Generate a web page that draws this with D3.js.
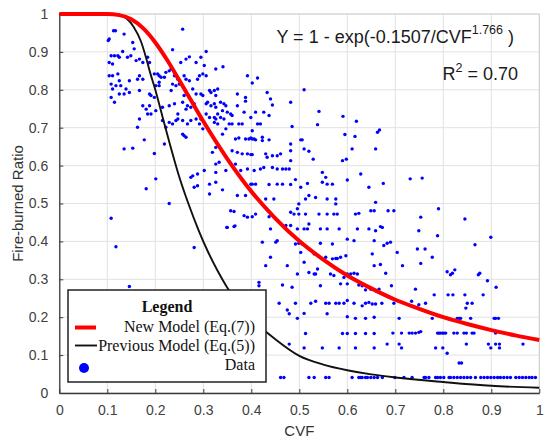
<!DOCTYPE html>
<html>
<head>
<meta charset="utf-8">
<script src="https://cdnjs.cloudflare.com/ajax/libs/d3/7.8.5/d3.min.js"></script>
<style>
  body { margin: 0; background: #fff; }
  svg { display: block; }
</style>
</head>
<body>
<div class="chart"></div>
<script>
// Tick values for both axes (0 .. 1 by 0.1)
var xTicks = [0, 0.1, 0.2, 0.3, 0.4, 0.5, 0.6, 0.7, 0.8, 0.9, 1];
var yTicks = [0, 0.1, 0.2, 0.3, 0.4, 0.5, 0.6, 0.7, 0.8, 0.9, 1];
var xTickLabels = ['0', '0.1', '0.2', '0.3', '0.4', '0.5', '0.6', '0.7', '0.8', '0.9', '1'];
var yTickLabels = ['0', '0.1', '0.2', '0.3', '0.4', '0.5', '0.6', '0.7', '0.8', '0.9', '1'];

// New model (Eq.(7))
var newModelCvf = [0, 0.05, 0.1, 0.125, 0.15, 0.175, 0.2, 0.225, 0.25, 0.275, 0.3, 0.35, 0.4, 0.45,
  0.5, 0.55, 0.6, 0.65, 0.7, 0.75, 0.8, 0.85, 0.9, 0.95, 1];
var newModelRatio = [1, 1, 1, 0.997, 0.986, 0.962, 0.925, 0.878, 0.825, 0.771, 0.717, 0.618, 0.532, 0.461,
  0.401, 0.352, 0.31, 0.276, 0.246, 0.222, 0.2, 0.182, 0.166, 0.152, 0.14];

// Previous model (Eq.(5))
var prevModelCvf = [0, 0.05, 0.1, 0.125, 0.14, 0.155, 0.17, 0.18, 0.19, 0.2, 0.21, 0.22, 0.23, 0.24, 0.25,
  0.27, 0.29, 0.31, 0.33, 0.35, 0.4, 0.45, 0.5, 0.55, 0.6, 0.65, 0.7, 0.8, 0.9, 1];
var prevModelRatio = [1, 1, 1, 0.998, 0.988, 0.966, 0.928, 0.888, 0.842, 0.8, 0.753, 0.705, 0.658, 0.613, 0.57,
  0.496, 0.43, 0.372, 0.322, 0.278, 0.197, 0.142, 0.098, 0.075, 0.06, 0.049, 0.041, 0.029, 0.019, 0.014];

// Measured data [CVF, fire-burned ratio]
var dataPoints = [
  [.113,.956],[.117,.956],[.104,.934],[.102,.930],[.135,.947],[.257,.960],[.153,.925],[.156,.908],
  [.132,.901],[.108,.890],[.115,.890],[.104,.872],[.111,.868],[.122,.890],[.125,.886],[.142,.886],
  [.149,.890],[.160,.877],[.167,.881],[.174,.872],[.184,.886],[.188,.872],[.236,.906],[.271,.887],
  [.264,.881],[.253,.872],[.285,.872],[.295,.886],[.302,.864],[.306,.901],[.326,.855],[.104,.837],
  [.111,.837],[.122,.842],[.125,.824],[.108,.815],[.118,.811],[.128,.811],[.139,.802],[.111,.802],
  [.108,.780],[.115,.767],[.125,.789],[.135,.789],[.146,.793],[.146,.824],[.163,.828],[.174,.828],
  [.167,.837],[.167,.798],[.198,.842],[.205,.842],[.208,.837],[.212,.833],[.208,.820],[.219,.833],
  [.222,.846],[.229,.850],[.233,.855],[.240,.837],[.247,.828],[.236,.815],[.243,.811],[.250,.815],
  [.233,.798],[.188,.789],[.191,.785],[.198,.780],[.201,.811],[.208,.811],[.260,.837],[.264,.828],
  [.271,.824],[.278,.802],[.285,.789],[.288,.828],[.292,.837],[.299,.842],[.306,.837],[.313,.798],
  [.316,.793],[.323,.798],[.326,.785],[.330,.802],[.260,.785],[.257,.767],[.267,.758],[.264,.749],
  [.274,.754],[.281,.763],[.295,.789],[.299,.785],[.306,.763],[.309,.767],[.316,.758],[.323,.763],
  [.326,.754],[.330,.736],[.188,.758],[.184,.736],[.191,.736],[.201,.745],[.215,.754],[.229,.758],
  [.240,.763],[.247,.736],[.243,.719],[.257,.719],[.267,.710],[.274,.719],[.285,.723],[.295,.723],
  [.306,.736],[.313,.727],[.323,.727],[.167,.723],[.163,.701],[.181,.749],[.174,.758],[.215,.719],
  [.222,.701],[.229,.714],[.236,.710],[.247,.723],[.257,.683],[.260,.679],[.264,.675],[.292,.710],
  [.299,.697],[.326,.723],[.323,.714],[.330,.710],[.177,.668],[.135,.644],[.153,.646],[.198,.632],
  [.219,.657],[.319,.635],[.326,.648],[.201,.565],[.181,.539],[.278,.573],[.274,.569],[.288,.578],
  [.302,.587],[.281,.543],[.288,.547],[.313,.551],[.326,.556],[.326,.604],[.326,.582],[.229,.500],
  [.313,.525],[.108,.461],[.118,.386],[.146,.281],[.281,.384],[.349,.437],[.366,.441],
  [.341,.861],[.392,.837],[.413,.831],[.402,.818],[.510,.800],[.371,.789],[.388,.780],[.388,.770],
  [.433,.793],[.440,.776],[.444,.760],[.482,.767],[.336,.767],[.343,.763],[.347,.758],[.340,.745],
  [.350,.741],[.357,.736],[.336,.727],[.343,.723],[.360,.732],[.354,.710],[.360,.710],[.347,.697],
  [.340,.683],[.371,.758],[.385,.741],[.399,.727],[.409,.741],[.426,.741],[.419,.710],[.413,.710],
  [.437,.732],[.374,.710],[.381,.710],[.541,.743],[.538,.708],[.591,.730],[.619,.717],[.595,.682],
  [.616,.677],[.663,.688],[.367,.670],[.374,.673],[.388,.670],[.395,.670],[.399,.673],[.402,.670],
  [.406,.670],[.409,.668],[.423,.675],[.423,.666],[.437,.668],[.402,.692],[.485,.703],[.503,.668],
  [.506,.668],[.360,.639],[.371,.635],[.381,.631],[.392,.631],[.399,.629],[.402,.629],[.430,.631],
  [.433,.622],[.444,.626],[.454,.626],[.461,.631],[.482,.639],[.482,.657],[.510,.644],[.520,.638],
  [.529,.617],[.590,.613],[.598,.617],[.610,.644],[.659,.644],[.333,.609],[.347,.587],[.367,.604],
  [.378,.587],[.392,.591],[.406,.587],[.419,.591],[.426,.595],[.444,.595],[.454,.591],[.465,.591],
  [.472,.591],[.479,.591],[.482,.613],[.437,.550],[.454,.551],[.465,.551],[.482,.550],[.492,.563],
  [.503,.543],[.517,.553],[.548,.582],[.555,.569],[.548,.556],[.558,.551],[.569,.551],[.600,.562],
  [.628,.578],[.645,.543],[.340,.536],[.371,.521],[.388,.521],[.430,.512],[.447,.512],[.499,.499],
  [.513,.512],[.520,.521],[.534,.516],[.558,.512],[.576,.512],[.659,.503],[.399,.551],[.402,.551],
  [.409,.551],[.667,.694],[.675,.553],[.731,.565],[.756,.567],
  [.357,.481],[.364,.479],[.385,.468],[.392,.464],[.402,.465],[.409,.472],[.437,.465],[.482,.477],
  [.489,.472],[.499,.472],[.496,.486],[.513,.472],[.541,.472],[.558,.472],[.572,.472],[.579,.472],
  [.576,.499],[.617,.472],[.624,.474],[.649,.481],[.656,.481],[.350,.437],[.364,.439],[.440,.433],
  [.472,.442],[.482,.442],[.496,.433],[.510,.433],[.517,.433],[.520,.446],[.544,.433],[.558,.433],
  [.583,.433],[.621,.433],[.645,.433],[.659,.428],[.423,.398],[.451,.398],[.454,.402],[.492,.393],
  [.499,.395],[.506,.393],[.544,.395],[.569,.393],[.600,.406],[.614,.402],[.656,.402],[.430,.336],
  [.440,.358],[.475,.336],[.503,.371],[.510,.345],[.531,.367],[.555,.358],[.569,.354],[.576,.355],
  [.579,.355],[.586,.358],[.597,.362],[.652,.367],[.656,.336],[.496,.314],[.520,.318],[.531,.314],
  [.534,.314],[.538,.327],[.565,.314],[.572,.310],[.593,.305],[.600,.314],[.607,.314],[.614,.316],
  [.621,.314],[.416,.292],[.416,.283],[.465,.285],[.485,.279],[.544,.283],[.586,.288],[.600,.288],
  [.624,.285],[.631,.283],[.638,.272],[.649,.274],[.659,.270],[.458,.237],[.475,.219],[.479,.209],
  [.492,.237],[.496,.197],[.510,.210],[.524,.237],[.534,.242],[.555,.237],[.562,.237],[.576,.237],
  [.583,.237],[.593,.237],[.600,.244],[.614,.237],[.631,.230],[.638,.237],[.645,.239],[.652,.235],
  [.659,.235],[.558,.209],[.600,.201],[.617,.197],[.638,.197],[.656,.200],[.513,.157],[.590,.157],
  [.600,.157],[.617,.157],[.638,.157],[.656,.157],[.479,.129],[.510,.119],[.548,.119],[.583,.119],
  [.617,.119],[.656,.119],
  [.461,.041],[.468,.041],[.520,.041],[.531,.041],[.555,.041],[.562,.041],[.610,.041],[.624,.041],
  [.628,.041],[.631,.041],[.638,.041],[.642,.041],[.649,.041],[.656,.041],[.663,.041],
  [.685,.481],[.697,.481],[.790,.486],[.845,.459],[.753,.464],[.749,.428],[.788,.415],[.669,.439],
  [.673,.437],[.899,.411],[.676,.389],[.683,.395],[.690,.398],[.704,.371],[.715,.336],[.746,.380],
  [.753,.342],[.762,.380],[.777,.358],[.866,.391],[.669,.339],[.680,.316],[.808,.320],[.815,.312],
  [.819,.316],[.824,.325],[.873,.312],[.876,.316],[.892,.296],[.910,.279],[.666,.274],[.692,.283],
  [.742,.274],[.781,.259],[.810,.259],[.820,.259],[.845,.259],[.883,.259],[.672,.237],[.697,.237],
  [.734,.242],[.749,.233],[.763,.237],[.850,.237],[.847,.224],[.860,.237],[.708,.197],[.777,.197],
  [.829,.197],[.833,.197],[.836,.197],[.857,.197],[.906,.197],[.909,.197],[.915,.197],
  [.695,.158],[.713,.158],[.729,.158],[.735,.158],[.742,.158],[.749,.160],[.753,.162],[.788,.158],
  [.791,.158],[.794,.158],[.798,.158],[.801,.158],[.805,.158],[.822,.158],[.829,.158],[.843,.158],
  [.848,.158],[.860,.158],[.864,.158],[.909,.158],
  [.683,.129],[.708,.129],[.713,.119],[.784,.119],[.799,.119],[.808,.105],[.833,.079],[.838,.079],
  [.848,.129],[.894,.129],[.899,.119],[.909,.129],[.917,.129],[.917,.119],[.966,.129],
  [.673,.041],[.699,.041],[.718,.041],[.735,.041],[.760,.041],[.763,.041],[.770,.041],[.784,.041],
  [.788,.041],[.794,.041],[.801,.041],[.812,.041],[.815,.041],[.822,.041],[.829,.041],[.836,.041],
  [.843,.041],[.850,.041],[.857,.041],[.867,.041],[.878,.041],[.885,.041],[.892,.041],[.899,.041],
  [.906,.041],[.913,.041],[.919,.041],[.926,.041],[.933,.041],[.940,.041],[.951,.041],[.958,.041],
  [.965,.041],[.972,.041],[.979,.041],[.985,.041],[.992,.041]
];

var legendLabels = ['New Model (Eq.(7))', 'Previous Model (Eq.(5))', 'Data'];

var WIDTH = 550;
var HEIGHT = 447;
var margin = {left: 59.3, top: 14, right: 10.7, bottom: 54};
var plotW = WIDTH - margin.left - margin.right;
var plotH = HEIGHT - margin.top - margin.bottom;

var svg = d3.select('.chart')
  .append('svg')
  .attr('width', WIDTH)
  .attr('height', HEIGHT);

var x = d3.scaleLinear().domain([0, 1]).range([margin.left, margin.left + plotW]);
var y = d3.scaleLinear().domain([0, 1]).range([margin.top + plotH, margin.top]);

var sansFont = 'Arial, "Liberation Sans", Helvetica, sans-serif';
var serifFont = '"Times New Roman", "Liberation Serif", Times, serif';

// grid lines
var grid = svg.append('g').attr('class', 'grid');
grid.selectAll('line.vx')
  .data(xTicks)
  .enter()
  .append('line')
  .attr('x1', function(d) { return x(d); })
  .attr('x2', function(d) { return x(d); })
  .attr('y1', y(0))
  .attr('y2', y(1))
  .attr('stroke', '#e2e2e2')
  .attr('stroke-width', 1);
grid.selectAll('line.hy')
  .data(yTicks)
  .enter()
  .append('line')
  .attr('x1', x(0))
  .attr('x2', x(1))
  .attr('y1', function(d) { return y(d); })
  .attr('y2', function(d) { return y(d); })
  .attr('stroke', '#e2e2e2')
  .attr('stroke-width', 1);

// scatter data
svg.append('g')
  .selectAll('circle')
  .data(dataPoints)
  .enter()
  .append('circle')
  .attr('cx', function(d) { return x(d[0]); })
  .attr('cy', function(d) { return y(d[1]); })
  .attr('r', 1.7)
  .attr('fill', '#0000ff');

// axes (MATLAB look: ticks inside, light box on top/right)
var xAxis = d3.axisBottom(x)
  .tickValues(xTicks)
  .tickFormat(function(d, i) { return xTickLabels[i]; })
  .tickSizeInner(-4)
  .tickSizeOuter(0)
  .tickPadding(12);
var yAxis = d3.axisLeft(y)
  .tickValues(yTicks)
  .tickFormat(function(d, i) { return yTickLabels[i]; })
  .tickSizeInner(-4)
  .tickSizeOuter(0)
  .tickPadding(11);

svg.append('line')
  .attr('x1', x(0)).attr('x2', x(1))
  .attr('y1', y(1)).attr('y2', y(1))
  .attr('stroke', '#cfcfcf');
svg.append('line')
  .attr('x1', x(1)).attr('x2', x(1))
  .attr('y1', y(0)).attr('y2', y(1))
  .attr('stroke', '#cfcfcf');

var gx = svg.append('g')
  .attr('transform', 'translate(0,' + y(0) + ')')
  .call(xAxis);
var gy = svg.append('g')
  .attr('transform', 'translate(' + x(0) + ',0)')
  .call(yAxis);

[gx, gy].forEach(function(g) {
  g.select('.domain').attr('stroke', '#3a3a3a').attr('stroke-width', 1.3);
  g.selectAll('.tick line').attr('stroke', '#3a3a3a');
  g.selectAll('.tick text')
    .attr('fill', '#404040')
    .style('font-family', sansFont)
    .style('font-size', '14px');
});

// model curves, drawn over the dots
var newLine = d3.line()
  .x(function(d, i) { return x(newModelCvf[i]); })
  .y(function(d) { return y(d); })
  .curve(d3.curveMonotoneX);
var prevLine = d3.line()
  .x(function(d, i) { return x(prevModelCvf[i]); })
  .y(function(d) { return y(d); })
  .curve(d3.curveMonotoneX);

svg.append('path')
  .datum(prevModelRatio)
  .attr('d', prevLine)
  .attr('fill', 'none')
  .attr('stroke', '#111')
  .attr('stroke-width', 1.9);
svg.append('path')
  .datum(newModelRatio)
  .attr('d', newLine)
  .attr('fill', 'none')
  .attr('stroke', '#ff0000')
  .attr('stroke-width', 4);

// axis titles
svg.append('text')
  .attr('x', x(0.5))
  .attr('y', 436)
  .attr('text-anchor', 'middle')
  .attr('fill', '#333')
  .style('font-family', sansFont)
  .style('font-size', '15px')
  .text('CVF');
svg.append('text')
  .attr('transform', 'translate(23,' + y(0.5) + ') rotate(-90)')
  .attr('text-anchor', 'middle')
  .attr('fill', '#333')
  .style('font-family', sansFont)
  .style('font-size', '15px')
  .text('Fire-burned Ratio');

// equation + R^2
var eq = svg.append('text')
  .attr('x', 514)
  .attr('y', 43)
  .attr('text-anchor', 'end')
  .attr('fill', '#1a1a1a')
  .style('font-family', sansFont)
  .style('font-size', '18px');
eq.append('tspan').text('Y = 1 - exp(-0.1507/CVF');
eq.append('tspan').attr('dy', -9).style('font-size', '12.5px').text('1.766');
eq.append('tspan').attr('dy', 9).text(' )');

var r2 = svg.append('text')
  .attr('x', 518)
  .attr('y', 80)
  .attr('text-anchor', 'end')
  .attr('fill', '#1a1a1a')
  .style('font-family', sansFont)
  .style('font-size', '18px');
r2.append('tspan').text('R');
r2.append('tspan').attr('dy', -8).style('font-size', '12.5px').text('2');
r2.append('tspan').attr('dy', 8).text(' = 0.70');

// legend
var legend = svg.append('g');
legend.append('rect')
  .attr('x', 68)
  .attr('y', 290)
  .attr('width', 198)
  .attr('height', 92)
  .attr('fill', '#fff')
  .attr('stroke', '#222')
  .attr('stroke-width', 1.5);
legend.append('text')
  .attr('x', 167)
  .attr('y', 312)
  .attr('text-anchor', 'middle')
  .attr('fill', '#111')
  .style('font-family', serifFont)
  .style('font-size', '16px')
  .style('font-weight', 'bold')
  .text('Legend');

var rowY = [332, 351, 370];
legend.selectAll('text.item')
  .data(legendLabels)
  .enter()
  .append('text')
  .attr('x', 255)
  .attr('y', function(d, i) { return rowY[i]; })
  .attr('text-anchor', 'end')
  .attr('fill', '#111')
  .style('font-family', serifFont)
  .style('font-size', '16px')
  .text(function(d) { return d; });

legend.append('line')
  .attr('x1', 75).attr('x2', 96)
  .attr('y1', rowY[0] - 4.5).attr('y2', rowY[0] - 4.5)
  .attr('stroke', '#ff0000')
  .attr('stroke-width', 4);
legend.append('line')
  .attr('x1', 75).attr('x2', 97)
  .attr('y1', rowY[1] - 5.5).attr('y2', rowY[1] - 5.5)
  .attr('stroke', '#111')
  .attr('stroke-width', 1.9);
legend.append('circle')
  .attr('cx', 84)
  .attr('cy', rowY[2] - 2)
  .attr('r', 5)
  .attr('fill', '#0000ff');
</script>
</body>
</html>
